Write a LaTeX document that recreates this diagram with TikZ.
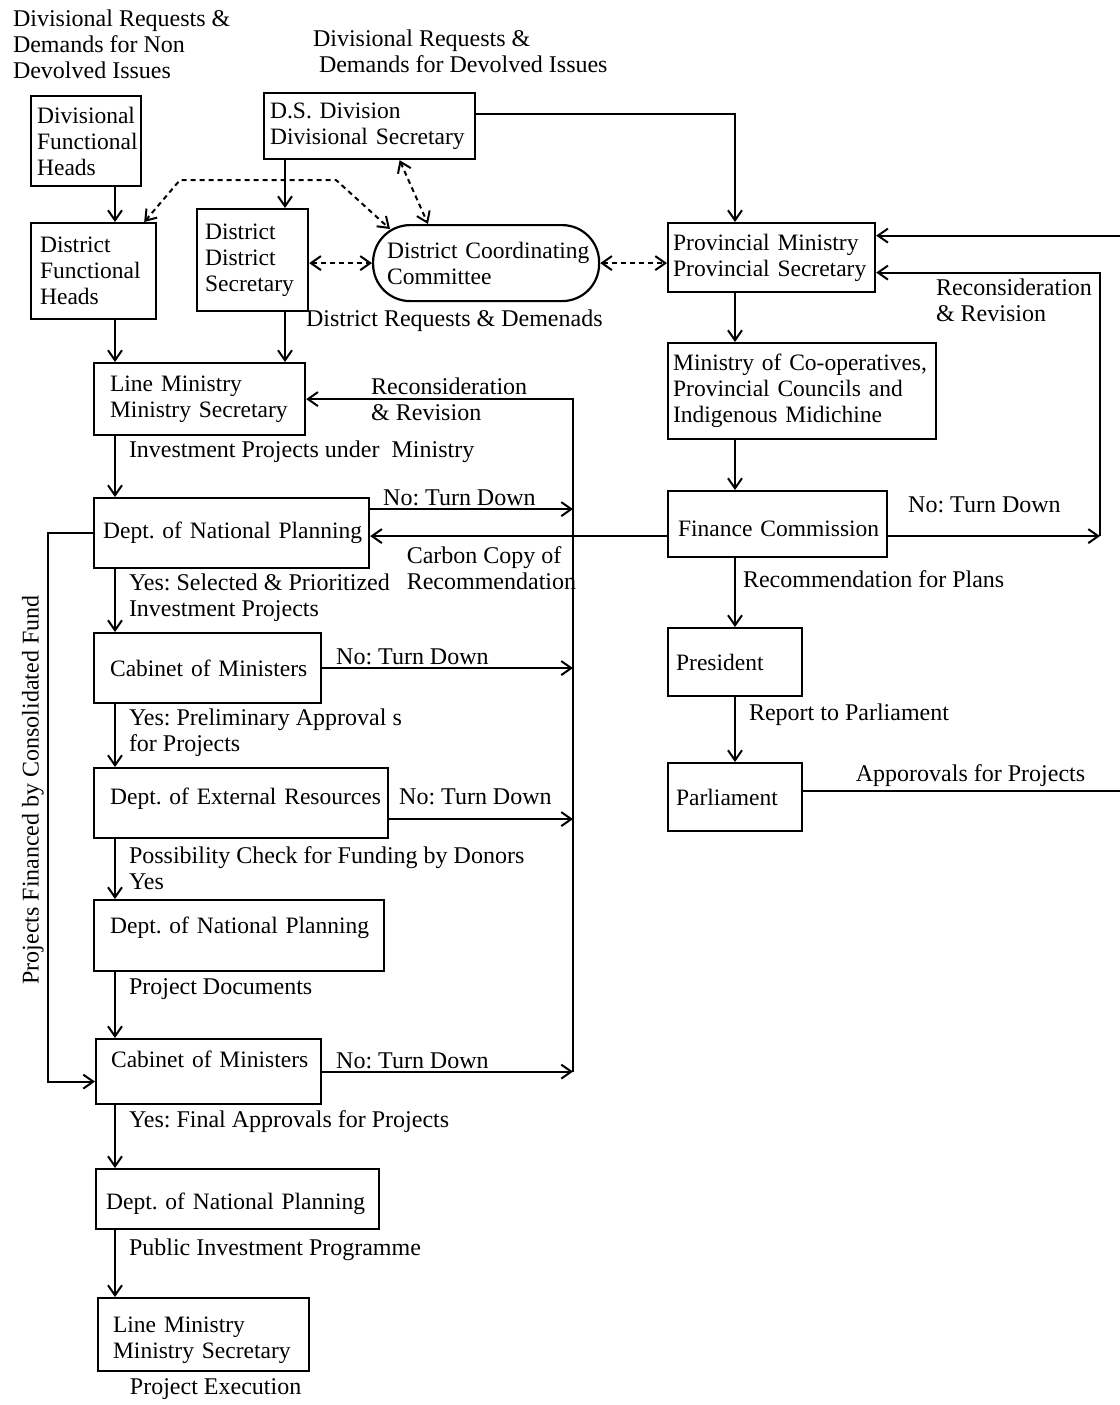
\documentclass[tikz,border=0pt]{standalone}
\usepackage{fontspec}
\setmainfont{Liberation Serif}
\usetikzlibrary{arrows.meta,positioning}
\hyphenpenalty=10000
\exhyphenpenalty=10000
\frenchspacing

\begin{document}
\begin{tikzpicture}[x=1pt, y=-1pt, line width=2pt,
  >={Straight Barb[length=10pt,width=14pt]},
  font=\fontsize{24}{26}\selectfont,
  unit/.style={draw, line width=2.2pt, anchor=north west, align=left, inner ysep=2pt, font=\fontsize{23.5}{26}\selectfont},
  dual/.style={<->, dash pattern=on 5pt off 4pt},
  lab/.style={anchor=west, align=left, inner sep=0pt, xshift=13pt},
  no/.style={anchor=south west, inner sep=2pt}]
	\useasboundingbox (0,0) rectangle (1119,1405);

	\node[anchor=west, align=left, inner sep=2pt] (nondev) at (10,44) {Divisional Requests \&\\Demands for Non\\Devolved Issues};
	\node[anchor=west, align=left, inner sep=2pt] (devreq) at (310,51) {Divisional Requests \&\\\hspace*{6pt}Demands for Devolved Issues};

	\node[unit, inner xsep=6pt, text width=98pt, minimum height=90pt] (divheads) at (30,95) {Divisional\\Functional\\Heads};
	\node[unit, inner xsep=6pt, text width=199pt, minimum height=66pt] (dsdiv) at (263,92) {D.S.~Division\\Divisional~Secretary};
	\node[unit, inner xsep=9pt, text width=107pt, minimum height=96pt] (distheads) at (30,222) {District\\Functional\\Heads};
	\node[unit, inner xsep=8pt, text width=95pt, minimum height=102pt] (distsec) at (196,208) {District\\District\\Secretary};
	\node[unit, rounded corners=37pt, inner xsep=14pt, text width=198pt, minimum height=76pt] (dcc) at (372,224) {District~Coordinating\\Committee};
	\node[unit, inner xsep=5pt, text width=197pt, minimum height=69pt] (provmin) at (667,222) {Provincial~Ministry\\Provincial~Secretary};
	\node[unit, inner xsep=5pt, text width=258pt, minimum height=96pt] (coopmin) at (667,342) {Ministry~of~Co-operatives,\\Provincial~Councils~and\\Indigenous~Midichine};
	\node[unit, inner xsep=16pt, text width=179pt, minimum height=72pt] (linemin) at (93,362) {Line~Ministry\\Ministry~Secretary};
	\node[unit, inner xsep=9pt, text width=257pt, minimum height=70pt] (planA) at (93,497) {Dept.~of~National~Planning};
	\node[unit, inner xsep=10pt, text width=199pt, minimum height=66pt, text height=25pt] (fincom) at (667,490) {Finance~Commission};
	\node[unit, inner xsep=16pt, text width=195pt, minimum height=70pt] (cabA) at (93,632) {Cabinet~of~Ministers};
	\node[unit, inner xsep=8pt, text width=118pt, minimum height=68pt] (president) at (667,627) {President};
	\node[unit, inner xsep=16pt, text width=262pt, minimum height=70pt, text depth=13pt] (extres) at (93,767) {Dept.~of~External~Resources};
	\node[unit, inner xsep=8pt, text width=118pt, minimum height=68pt] (parliament) at (667,762) {Parliament};
	\node[unit, inner xsep=16pt, text width=258pt, minimum height=71pt, text depth=21pt] (planB) at (93,899) {Dept.~of~National~Planning};
	\node[unit, inner xsep=15pt, text width=195pt, minimum height=65pt, text depth=25pt] (cabB) at (95,1038) {Cabinet~of~Ministers};
	\node[unit, inner xsep=10pt, text width=263pt, minimum height=60pt, text height=25pt] (planC) at (95,1168) {Dept.~of~National~Planning};
	\node[unit, inner xsep=15pt, text width=181pt, minimum height=73pt, text height=27pt] (lineexec) at (97,1297) {Line~Ministry\\Ministry~Secretary};
	\node[below=3pt of lineexec, xshift=12pt, inner sep=2pt] (execlab) {Project Execution};

	\coordinate (c1) at (115,0);
	\coordinate (c2) at (285,0);
	\coordinate (c3) at (735,0);
	\coordinate (ret) at (573,0);
	\coordinate (retR) at (1100,0);
	\coordinate (edge) at (1125,0);
	\coordinate (fund) at (48,0);

	% left column
	\draw[->] (divheads.south -| c1) -- (distheads.north -| c1);
	\draw[->] (distheads.south -| c1) -- (linemin.north -| c1);
	\draw[->] (dsdiv.south -| c2) -- (distsec.north -| c2);
	\draw[->] (distsec.south -| c2) -- node[lab, pos=0.17, xshift=7pt] {District Requests \& Demenads} (linemin.north -| c2);
	\draw[->] (linemin.south -| c1) -- node[lab, pos=0.25] {Investment Projects under\ \ Ministry} (planA.north -| c1);
	\draw[->] (planA.south -| c1) -- node[lab, pos=0.46] {Yes: Selected \& Prioritized\\Investment Projects} (cabA.north -| c1);
	\draw[->] (cabA.south -| c1) -- node[lab, pos=0.46] {Yes: Preliminary Approval s\\for Projects} (extres.north -| c1);
	\draw[->] (extres.south -| c1) -- node[lab, pos=0.48] {Possibility Check for Funding by Donors\\Yes} (planB.north -| c1);
	\draw[->] (planB.south -| c1) -- node[lab, pos=0.25] {Project Documents} (cabB.north -| c1);
	\draw[->] (cabB.south -| c1) -- node[lab, pos=0.26] {Yes: Final Approvals for Projects} (planC.north -| c1);
	\draw[->] (planC.south -| c1) -- node[lab, pos=0.29] {Public Investment Programme} (lineexec.north -| c1);

	% right column
	\draw[->] ([yshift=12pt]dsdiv.east) -| (provmin.north -| c3);
	\draw[->] (provmin.south -| c3) -- (coopmin.north -| c3);
	\draw[->] (coopmin.south -| c3) -- (fincom.north -| c3);
	\draw[->] (fincom.south -| c3) -- node[lab, pos=0.3, xshift=-6pt] {Recommendation for Plans} (president.north -| c3);
	\draw[->] (president.south -| c3) -- node[lab, pos=0.27] {Report to Parliament} (parliament.north -| c3);

	% coordination links
	\draw[dual] ([xshift=-13pt]distheads.north east) -- (180,180) -- (336,180) -- ([xshift=18pt,yshift=-5pt]dcc.north west);
	\draw[dual] ([xshift=30pt]dsdiv.south) -- ([xshift=56pt]dcc.north west);
	\draw[dual] (dcc.west -| distsec.east) -- (dcc.west);
	\draw[dual] (dcc.east) -- (dcc.east -| provmin.west);

	% turn down and revision
	\coordinate (noA) at ([yshift=24pt]planA.east);
	\coordinate (noC) at ([yshift=-16pt]extres.east);
	\draw[->] (noA) -- node[no, pos=0, xshift=10pt] {No: Turn Down} (noA -| ret);
	\draw[->] (cabA.east) -- node[no, pos=0, xshift=11pt] {No: Turn Down} (cabA.east -| ret);
	\draw[->] (noC) -- node[no, pos=0, xshift=7pt, yshift=11pt] {No: Turn Down} (noC -| ret);
	\draw[->] (cabB.east) -- node[no, pos=0, xshift=11pt] {No: Turn Down} (cabB.east -| ret);
	\draw[->] (cabB.east -| ret) |- node[pos=0.88, anchor=west, align=left, inner sep=0pt] {Reconsideration\\\& Revision} (linemin.east);

	\coordinate (ccA) at ([yshift=-12pt]fincom.west);
	\draw[->] (ccA) -- node[pos=0.88, anchor=north west, align=left, inner sep=0pt, yshift=-9pt] {Carbon Copy of\\Recommendation} (ccA -| planA.east);

	\coordinate (noF) at ([yshift=-12pt]fincom.east);
	\draw[->] (noF) -- node[no, pos=0, xshift=17pt, yshift=20pt] {No: Turn Down} (noF -| retR);
	\draw[->] (noF -| retR) |- ([yshift=-15pt]provmin.east);
	\node[anchor=west, align=left, inner sep=0pt] (reconR) at (935,300) {Reconsideration\\\& Revision};

	\draw[->] ([yshift=6pt]parliament.east) -- node[above, pos=0.52, inner sep=4pt] {Apporovals for Projects} ([yshift=6pt]parliament.east -| edge) |- ([yshift=22pt]provmin.east);

	% consolidated fund
	\draw[->] (planA.west) -- (planA.west -| fund) |- ([yshift=-10pt]cabB.west);
	\node[rotate=90] (fundlab) at (33,790) {Projects Financed by Consolidated Fund};
\end{tikzpicture}
\end{document}
